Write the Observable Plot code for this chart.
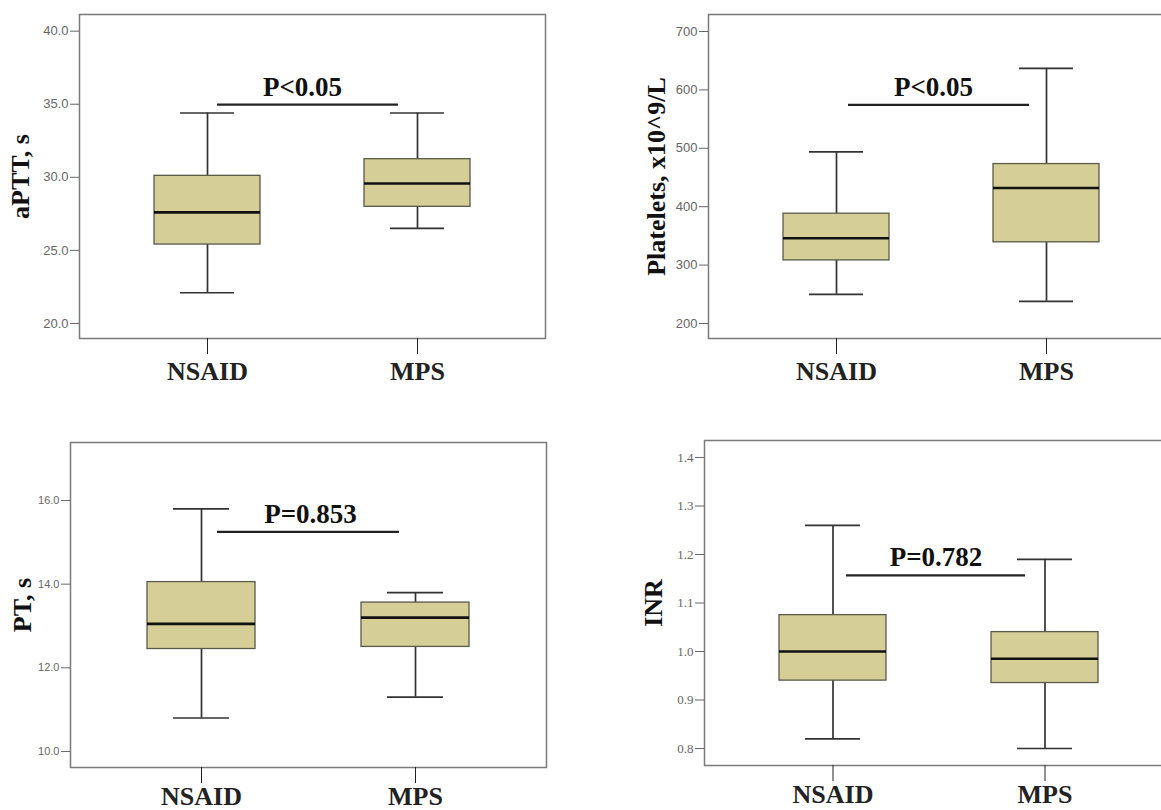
<!DOCTYPE html>
<html>
<head>
<meta charset="utf-8">
<script src="https://cdn.jsdelivr.net/npm/d3@7"></script>
<script src="https://cdn.jsdelivr.net/npm/@observablehq/plot@0.6"></script>
<style>
  html, body { margin: 0; padding: 0; background: #fff; overflow: hidden; }
  #chart { position: relative; width: 1161px; height: 810px; overflow: hidden; background: #fff; }
  .panel { position: absolute; }
  .panel svg { max-width: none !important; display: block; }
</style>
</head>
<body>
<div id="chart"></div>
<script>
// ---- data ----
const groups = ["NSAID", "MPS"];
// each row: [lower whisker, Q1, median, Q3, upper whisker]
const apttStats = [[22.1, 25.4, 27.6, 30.1, 34.4], [26.5, 27.98, 29.58, 31.24, 34.4]];
const plateletStats = [[250, 308, 346, 388, 494], [238, 339, 432, 473, 637]];
const ptStats = [[10.8, 12.45, 13.05, 14.05, 15.8], [11.3, 12.5, 13.2, 13.56, 13.8]];
const inrStats = [[0.82, 0.94, 1.0, 1.075, 1.26], [0.80, 0.935, 0.985, 1.04, 1.19]];

const apttTicks = [20, 25, 30, 35, 40];
const plateletTicks = [200, 300, 400, 500, 600, 700];
const ptTicks = [10, 12, 14, 16];
const inrTicks = [0.8, 0.9, 1.0, 1.1, 1.2, 1.3, 1.4];

const yLabels = ["aPTT, s", "Platelets, x10^9/L", "PT, s", "INR"];
const pLabels = ["P<0.05", "P<0.05", "P=0.853", "P=0.782"];
const bracketLevels = [34.97, 574.5, 15.25, 1.157];

// ---- panel layout / style ----
const panels = [
  {stats: apttStats, ticks: apttTicks, domain: [18.97, 41.14], fmt: ".1f", tickFont: "Liberation Sans", tickFs: 13,
   left: 0, top: 0, width: 580, height: 400, mL: 79, mR: 35, mT: 14, mB: 62, labelDx: -59, textDx: 95, insL: 63, insR: 72, xPad: 7},
  {stats: plateletStats, ticks: plateletTicks, domain: [174.3, 729.1], fmt: "d", tickFont: "Liberation Sans", tickFs: 13,
   left: 580, top: 0, width: 600, height: 400, mL: 128, mR: 6, mT: 14, mB: 62, labelDx: -52, textDx: 97, insL: 65, insR: 70, xPad: 7},
  {stats: ptStats, ticks: ptTicks, domain: [9.617, 17.387], fmt: ".1f", tickFont: "Liberation Sans", tickFs: 11,
   left: 0, top: 420, width: 580, height: 390, mL: 70, mR: 34, mT: 22, mB: 43, labelDx: -48, textDx: 109, insL: 70, insR: 70, xPad: 3},
  {stats: inrStats, ticks: inrTicks, domain: [0.765, 1.435], fmt: ".1f", tickFont: "Liberation Serif", tickFs: 13,
   left: 580, top: 420, width: 600, height: 390, mL: 124, mR: 6, mT: 20, mB: 45, labelDx: -51, textDx: 103, insL: 67, insR: 73, xPad: 3}
];

const boldSerif = "'Liberation Serif', 'Times New Roman', serif";
const chart = document.getElementById("chart");

panels.forEach((p, i) => {
  const rows = groups.map((g, j) => ({
    group: g, low: p.stats[j][0], q1: p.stats[j][1], median: p.stats[j][2], q3: p.stats[j][3], high: p.stats[j][4]
  }));
  const sig = [{from: groups[0], to: groups[1], y: bracketLevels[i], label: pLabels[i]}];

  const plot = Plot.plot({
    width: p.width,
    height: p.height,
    marginLeft: p.mL,
    marginRight: p.mR,
    marginTop: p.mT,
    marginBottom: p.mB,
    style: {background: "#fff", fontFamily: "'Liberation Sans', Arial, sans-serif", overflow: "visible", maxWidth: "none"},
    x: {type: "band", domain: groups, paddingInner: 0.495, paddingOuter: 0.355},
    y: {domain: p.domain},
    marks: [
      Plot.frame({stroke: "#7a7a7a", strokeWidth: 1.5}),
      Plot.ruleX(rows, {x: "group", y1: "low", y2: "high", stroke: "#333", strokeWidth: 1.7}),
      Plot.barY(rows, {x: "group", y1: "q1", y2: "q3", fill: "#d5cf97", stroke: "#5a5a4a", strokeWidth: 1.3}),
      Plot.ruleY(rows, {x1: "group", x2: "group", y: "median", stroke: "#111", strokeWidth: 2.6}),
      Plot.ruleY(rows, {x1: "group", x2: "group", y: "high", stroke: "#333", strokeWidth: 1.7, insetLeft: 26, insetRight: 26}),
      Plot.ruleY(rows, {x1: "group", x2: "group", y: "low", stroke: "#333", strokeWidth: 1.7, insetLeft: 26, insetRight: 26}),
      Plot.ruleY(sig, {x1: "from", x2: "to", y: "y", stroke: "#222", strokeWidth: 2.2, insetLeft: p.insL, insetRight: p.insR}),
      Plot.text(sig, {x: "from", y: "y", text: "label", dx: p.textDx, dy: -9, lineAnchor: "bottom",
        fontSize: 27, fontWeight: "bold", fontFamily: boldSerif, fill: "#111"}),
      Plot.axisY(p.ticks, {tickSize: 9, tickPadding: 2, tickFormat: d3.format(p.fmt), fontSize: p.tickFs,
        fontFamily: p.tickFont, color: "#666", label: null}),
      Plot.axisX({tickSize: 16, tickPadding: p.xPad, fontSize: 26, fontWeight: "bold", fontFamily: boldSerif,
        color: "#222", label: null}),
      Plot.text([yLabels[i]], {text: d => d, frameAnchor: "left", rotate: -90, dx: p.labelDx,
        textAnchor: "middle", lineAnchor: "middle", fontSize: 26, fontWeight: "bold", fontFamily: boldSerif, fill: "#111"})
    ]
  });
  const wrap = document.createElement("div");
  wrap.className = "panel";
  wrap.style.left = p.left + "px";
  wrap.style.top = p.top + "px";
  wrap.style.width = p.width + "px";
  wrap.style.height = p.height + "px";
  wrap.appendChild(plot);
  chart.appendChild(wrap);
});
</script>
</body>
</html>
